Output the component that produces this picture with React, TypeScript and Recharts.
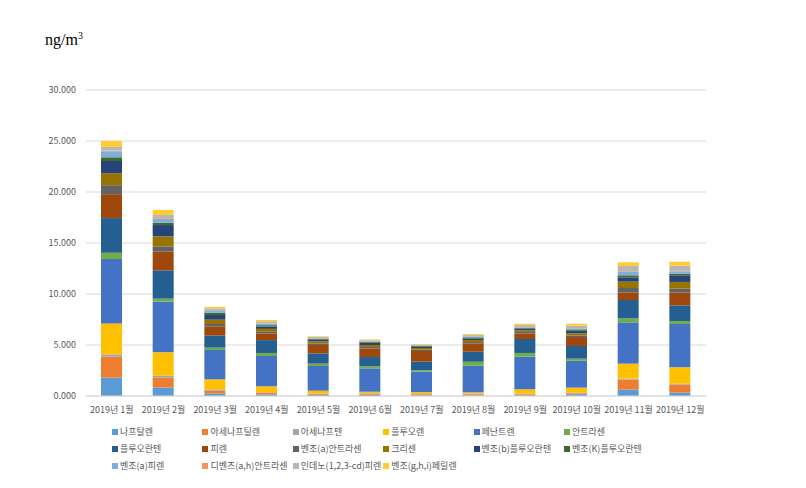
import React from 'react';
import { BarChart, Bar, XAxis, YAxis, CartesianGrid, Legend } from 'recharts';

const months = ['2019년 1월','2019년 2월','2019년 3월','2019년 4월','2019년 5월','2019년 6월','2019년 7월','2019년 8월','2019년 9월','2019년 10월','2019년 11월','2019년 12월'];

const seriesNames = ['나프탈렌','아세나프틸렌','아세나프텐','플루오렌','페난트렌','안트라센','플루오란텐','피렌','벤조(a)안트라센','크리센','벤조(b)플루오란텐','벤조(K)플루오란텐','벤조(a)피렌','디벤즈(a,h)안트라센','인데노(1,2,3-cd)피렌','벤조(g,h,i)페릴렌'];

const seriesColors = ['#5B9BD5','#ED7D31','#A5A5A5','#FFC000','#4472C4','#70AD47','#255E91','#9E480E','#636363','#997300','#264478','#43682B','#7CAFDD','#F1975A','#B7B7B7','#FFCD33'];

const naphthalene =      [1.80, 0.82, 0.23, 0.13, 0.10, 0.12, 0.05, 0.05, 0.07, 0.18, 0.62, 0.33];
const acenaphthylene =   [2.05, 0.98, 0.29, 0.16, 0.08, 0.10, 0.12, 0.12, 0.10, 0.08, 0.98, 0.78];
const acenaphthene =     [0.23, 0.19, 0.13, 0.07, 0.04, 0.05, 0.09, 0.06, 0.06, 0.05, 0.10, 0.10];
const fluorene =         [3.04, 2.29, 0.98, 0.59, 0.30, 0.15, 0.13, 0.13, 0.43, 0.51, 1.47, 1.60];
const phenanthrene =     [6.30, 4.97, 2.88, 2.97, 2.42, 2.29, 2.00, 2.61, 3.20, 2.64, 4.05, 4.25];
const anthracene =       [0.62, 0.29, 0.23, 0.29, 0.23, 0.20, 0.13, 0.39, 0.36, 0.20, 0.39, 0.29];
const fluoranthene =     [3.40, 2.78, 1.18, 1.27, 1.01, 0.91, 0.85, 0.98, 1.37, 1.24, 1.80, 1.54];
const pyrene =           [2.35, 1.83, 0.91, 0.65, 0.82, 0.82, 1.04, 0.82, 0.55, 0.88, 0.72, 1.24];
const benzAAnthracene =  [0.88, 0.52, 0.23, 0.16, 0.16, 0.16, 0.13, 0.13, 0.13, 0.16, 0.46, 0.39];
const chrysene =         [1.17, 0.98, 0.42, 0.29, 0.20, 0.20, 0.16, 0.20, 0.16, 0.20, 0.62, 0.66];
const benzoBFluor =      [1.20, 1.11, 0.46, 0.23, 0.16, 0.23, 0.13, 0.16, 0.16, 0.26, 0.42, 0.65];
const benzoKFluor =      [0.36, 0.23, 0.23, 0.13, 0.07, 0.07, 0.07, 0.10, 0.07, 0.13, 0.20, 0.16];
const benzoAPyrene =     [0.59, 0.39, 0.23, 0.16, 0.07, 0.05, 0.07, 0.10, 0.07, 0.10, 0.33, 0.23];
const dibenzAHAnthr =    [0.07, 0.07, 0.03, 0.03, 0.02, 0.02, 0.02, 0.02, 0.02, 0.03, 0.07, 0.05];
const indenoPyrene =     [0.36, 0.30, 0.16, 0.19, 0.10, 0.10, 0.06, 0.10, 0.20, 0.23, 0.52, 0.50];
const benzoGHIPerylene = [0.58, 0.49, 0.16, 0.13, 0.07, 0.07, 0.05, 0.10, 0.13, 0.20, 0.36, 0.39];

const seriesValues = [naphthalene, acenaphthylene, acenaphthene, fluorene, phenanthrene, anthracene, fluoranthene, pyrene, benzAAnthracene, chrysene, benzoBFluor, benzoKFluor, benzoAPyrene, dibenzAHAnthr, indenoPyrene, benzoGHIPerylene];

const yTicks = [0, 5, 10, 15, 20, 25, 30];

const data = months.map((m, i) => {
  const row: Record<string, string | number> = { month: m };
  seriesValues.forEach((vals, s) => { row['s' + s] = vals[i]; });
  return row;
});

const FONT = '"Noto Sans CJK KR", "Noto Sans", sans-serif';

const LegendContent = () => (
  <div style={{ display: 'flex', flexWrap: 'wrap', width: 560, fontFamily: FONT, fontSize: 9, color: '#595959' }}>
    {seriesNames.map((n, i) => (
      <div key={n} style={{ width: 90.4, height: 17, display: 'flex', alignItems: 'center', whiteSpace: 'nowrap' }}>
        <span style={{ display: 'inline-block', width: 6, height: 6, background: seriesColors[i], marginRight: 2 }} />
        <span>{n}</span>
      </div>
    ))}
  </div>
);

export default function App() {
  return (
    <div style={{ position: 'absolute', left: 0, top: 0, width: 806, height: 488, background: '#fff' }}>
      <div style={{ position: 'absolute', left: 45, top: 30, fontFamily: '"Liberation Serif", "DejaVu Serif", serif', fontSize: 16, color: '#000' }}>
        ng/m<sup style={{ fontSize: 10 }}>3</sup>
      </div>
      <BarChart width={806} height={488} data={data} margin={{ top: 90, right: 100, bottom: 62, left: 0 }}>
        <CartesianGrid vertical={false} stroke="#D9D9D9" />
        <XAxis dataKey="month" interval={0} tickLine={false} axisLine={{ stroke: '#D9D9D9' }} tickSize={0} tickMargin={11}
          height={30} tick={{ fontSize: 9, fill: '#595959', fontFamily: FONT }} />
        <YAxis domain={[0, 30]} ticks={yTicks} width={86} axisLine={false} tickLine={false} tickSize={0} tickMargin={10}
          tickFormatter={(v: number) => v.toFixed(3)} tick={{ fontSize: 9, fill: '#595959', fontFamily: FONT }} />
        <Legend layout="horizontal" verticalAlign="middle" align="center" content={<LegendContent />}
          wrapperStyle={{ position: 'absolute', left: 112, top: 423, width: 560 }} />
        {seriesNames.map((n, i) => (
          <Bar key={n} dataKey={'s' + i} name={n} stackId="a" fill={seriesColors[i]} barSize={21} isAnimationActive={false} />
        ))}
      </BarChart>
    </div>
  );
}
